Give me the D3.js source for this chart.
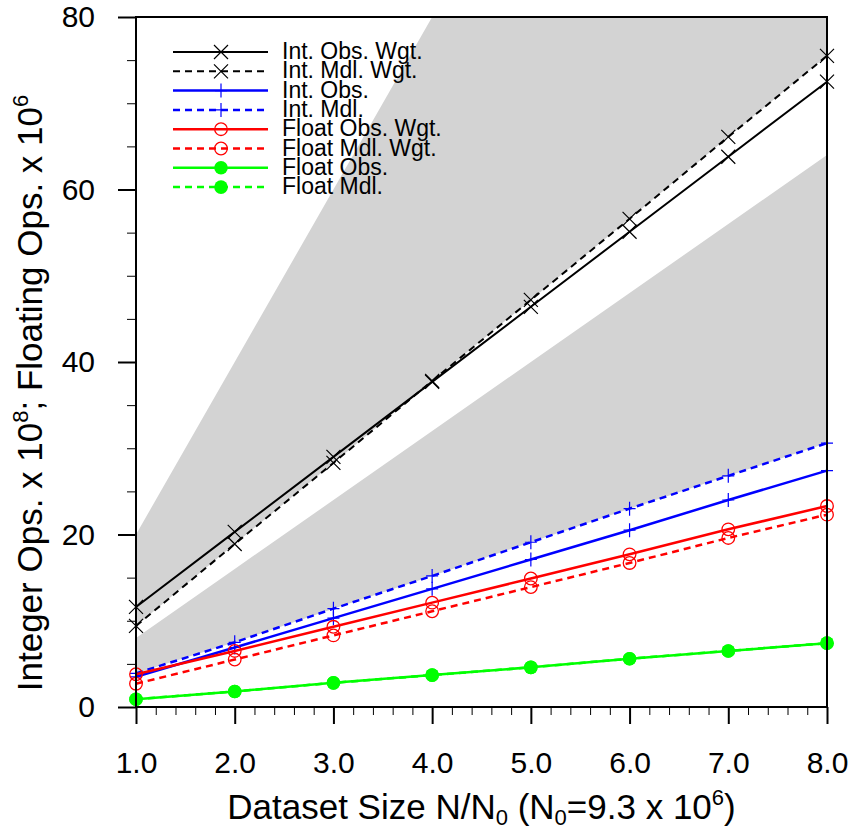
<!DOCTYPE html>
<html>
<head>
<meta charset="utf-8">
<script src="https://cdn.jsdelivr.net/npm/d3@7/dist/d3.min.js"></script>
<style>
  body { margin: 0; background: #fff; }
  svg { display: block; font-family: "Liberation Sans", Arial, Helvetica, sans-serif; }
</style>
</head>
<body>
<svg id="chart" width="849" height="833"></svg>
<script>
// dataset size N/N0
const xVals = [1, 2, 3, 4, 5, 6, 7, 8];
// series values
const intObsWgt   = [11.6, 20.3, 29.0, 37.7, 46.4, 55.1, 63.8, 72.5];
const intMdlWgt   = [9.4, 18.9, 28.3, 37.8, 47.2, 56.6, 66.1, 75.5];
const intObs      = [3.5, 6.9, 10.3, 13.7, 17.1, 20.5, 24.0, 27.4];
const intMdl      = [3.9, 7.5, 11.4, 15.2, 19.1, 23.0, 26.8, 30.6];
const floatObsWgt = [3.8, 6.5, 9.3, 12.1, 14.9, 17.7, 20.6, 23.3];
const floatMdlWgt = [2.7, 5.5, 8.3, 11.1, 13.9, 16.7, 19.6, 22.3];
const floatObs    = [0.9, 1.8, 2.8, 3.7, 4.6, 5.6, 6.5, 7.4];
const floatMdl    = [0.9, 1.8, 2.8, 3.7, 4.6, 5.6, 6.5, 7.4];
// grey bands: upper edges (lower edges are the two model curves)
const bandHiTop = [20, 40, 60, 80, 100, 120, 140, 160];
const bandLoTop = [8, 16, 24, 32, 40, 48, 56, 64];
// ticks
const xTicks = [1, 2, 3, 4, 5, 6, 7, 8];
const yTicks = [0, 20, 40, 60, 80];

const series = [
  {name: 'Int. Obs. Wgt.',    vals: intObsWgt,   color: '#000', dash: null, mark: 'x',    w: 2},
  {name: 'Int. Mdl. Wgt.',    vals: intMdlWgt,   color: '#000', dash: '7,5', mark: 'x',   w: 2},
  {name: 'Int. Obs.',         vals: intObs,      color: '#0000ff', dash: null, mark: '+', w: 2.5},
  {name: 'Int. Mdl.',         vals: intMdl,      color: '#0000ff', dash: '7,5', mark: '+', w: 2.5},
  {name: 'Float Obs. Wgt.',   vals: floatObsWgt, color: '#ff0000', dash: null, mark: 'o', w: 2.5},
  {name: 'Float Mdl. Wgt.',   vals: floatMdlWgt, color: '#ff0000', dash: '7,5', mark: 'o', w: 2.5},
  {name: 'Float Obs.',        vals: floatObs,    color: '#00ff00', dash: null, mark: 'dot', w: 2.5},
  {name: 'Float Mdl.',        vals: floatMdl,    color: '#00ff00', dash: '7,5', mark: 'dot', w: 2.5}
];

const margin = {top: 17, right: 22, bottom: 126, left: 136};
const W = 849, H = 833;
const width = W - margin.left - margin.right, height = H - margin.top - margin.bottom;

const x = d3.scaleLinear().domain([1, 8]).range([0, width]);
const y = d3.scaleLinear().domain([0, 80]).range([height, 0]);

const svg = d3.select('#chart');
const g = svg.append('g').attr('transform', `translate(${margin.left},${margin.top})`);

g.append('clipPath').attr('id', 'clip').append('rect').attr('width', width).attr('height', height);

// grey bands
const band = d3.area().x(d => x(d.x)).y0(d => y(d.lo)).y1(d => y(d.hi));
const bands = [
  xVals.map((v, i) => ({x: v, lo: intMdlWgt[i], hi: bandHiTop[i]})),
  xVals.map((v, i) => ({x: v, lo: intMdl[i], hi: bandLoTop[i]}))
];
g.append('g').attr('clip-path', 'url(#clip)').selectAll('path').data(bands).join('path')
  .attr('d', band).attr('fill', '#d3d3d3');

// markers
function drawMark(sel, type, color) {
  if (type === 'x') {
    sel.append('path').attr('d', 'M-7,-7L7,7M-7,7L7,-7').attr('stroke', color).attr('stroke-width', 1.2).attr('fill', 'none');
  } else if (type === '+') {
    sel.append('path').attr('d', 'M-6,0L6,0M0,-7L0,7').attr('stroke', color).attr('stroke-width', 1.2).attr('fill', 'none');
  } else if (type === 'o') {
    sel.append('circle').attr('r', 6.3).attr('stroke', color).attr('stroke-width', 1.3).attr('fill', 'none');
  } else {
    sel.append('circle').attr('r', 6.8).attr('fill', color);
  }
}

const line = d3.line().x((d, i) => x(xVals[i])).y(d => y(d));
series.forEach(s => {
  g.append('path').attr('d', line(s.vals)).attr('fill', 'none')
    .attr('stroke', s.color).attr('stroke-width', s.w).attr('stroke-dasharray', s.dash);
  g.append('g').selectAll('g').data(s.vals).join('g')
    .attr('transform', (d, i) => `translate(${x(xVals[i])},${y(d)})`)
    .each(function() { drawMark(d3.select(this), s.mark, s.color); });
});

// axes
const yMinor = d3.range(0, 81, 5).filter(v => v % 20 !== 0);
const xMinor = d3.range(10, 81, 2).map(v => v / 10).filter(v => v % 1 !== 0);

g.append('g').call(d3.axisLeft(y).tickValues(yMinor).tickSize(9).tickFormat(''))
  .call(a => a.select('.domain').remove())
  .call(a => a.selectAll('line').attr('stroke', '#000').attr('stroke-width', 1));
g.append('g').call(d3.axisLeft(y).tickValues(yTicks).tickSize(18).tickPadding(23))
  .call(a => a.select('.domain').remove())
  .call(a => a.selectAll('line').attr('stroke', '#000').attr('stroke-width', 2))
  .call(a => a.selectAll('text').attr('font-size', 30).attr('fill', '#000').attr('font-family', null));

g.append('g').attr('transform', `translate(0,${height})`)
  .call(d3.axisBottom(x).tickValues(xMinor).tickSize(8).tickFormat(''))
  .call(a => a.select('.domain').remove())
  .call(a => a.selectAll('line').attr('stroke', '#000').attr('stroke-width', 1));
g.append('g').attr('transform', `translate(0,${height})`)
  .call(d3.axisBottom(x).tickValues(xTicks).tickSize(17).tickPadding(28).tickFormat(d3.format('.1f')))
  .call(a => a.select('.domain').remove())
  .call(a => a.selectAll('line').attr('stroke', '#000').attr('stroke-width', 2))
  .call(a => a.selectAll('text').attr('font-size', 30).attr('fill', '#000').attr('font-family', null));

// frame
g.append('rect').attr('width', width).attr('height', height)
  .attr('fill', 'none').attr('stroke', '#000').attr('stroke-width', 2);

// legend
const leg = g.append('g').attr('transform', 'translate(37,35)');
series.forEach((s, i) => {
  const row = leg.append('g').attr('transform', `translate(0,${i * 19.3})`);
  row.append('line').attr('x1', 0).attr('x2', 95).attr('stroke', s.color)
    .attr('stroke-width', s.w).attr('stroke-dasharray', s.dash);
  drawMark(row.append('g').attr('transform', 'translate(48,0)'), s.mark, s.color);
  row.append('text').attr('x', 109).attr('y', 7).attr('font-size', 23).text(s.name);
});

// axis titles
const xt = svg.append('text').attr('x', margin.left + width / 2).attr('y', 819)
  .attr('text-anchor', 'middle').attr('font-size', 35);
xt.append('tspan').text('Dataset Size N/N');
xt.append('tspan').attr('font-size', 22).attr('dy', 6).text('0');
xt.append('tspan').attr('dy', -6).text(' (N');
xt.append('tspan').attr('font-size', 22).attr('dy', 6).text('0');
xt.append('tspan').attr('dy', -6).text('=9.3 x 10');
xt.append('tspan').attr('font-size', 22).attr('dy', -14).text('6');
xt.append('tspan').attr('dy', 14).text(')');

const yt = svg.append('text').attr('transform', 'translate(42,393) rotate(-90)')
  .attr('text-anchor', 'middle').attr('font-size', 35);
yt.append('tspan').text('Integer Ops. x 10');
yt.append('tspan').attr('font-size', 22).attr('dy', -14).text('8');
yt.append('tspan').attr('dy', 14).text('; Floating Ops. x 10');
yt.append('tspan').attr('font-size', 22).attr('dy', -14).text('6');
</script>
</body>
</html>
